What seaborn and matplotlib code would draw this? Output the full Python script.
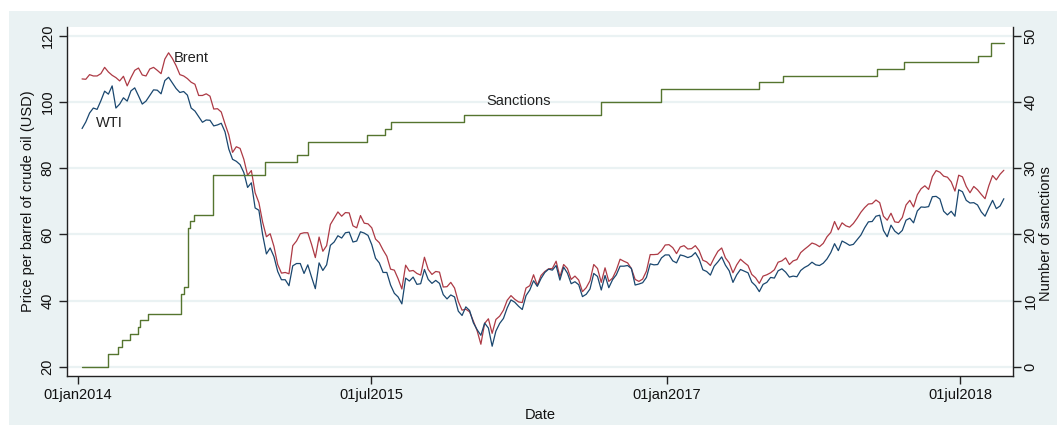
import matplotlib
matplotlib.use('Agg')
import matplotlib.pyplot as plt
from matplotlib.patches import Rectangle
import seaborn as sns
import pandas as pd

# weekly closing prices (USD per barrel), first week = 9 Jan 2014
start_week = '2014-01-09'
brent = [
    # 2014
    107.0, 106.9, 108.3, 107.9, 107.9, 108.6, 110.5, 109.1, 108.1, 107.4, 106.4, 107.8,
    104.9, 107.4, 109.6, 110.3, 108.2, 107.9, 110.0, 110.5, 109.6, 108.6, 113.0, 114.9, 113.2,
    111.0, 108.3, 107.9, 107.1, 106.0, 105.4, 102.0, 102.0, 102.5, 101.8, 97.9, 98.0, 97.0,
    93.4, 90.1, 84.8, 86.5, 86.0, 82.7, 77.9, 79.3, 72.6, 69.6, 63.7, 59.3, 60.2,
    # 2015
    56.4, 50.9, 48.3, 48.5, 48.1, 56.6, 58.0, 60.2, 60.5, 60.5, 57.0, 53.0, 59.2,
    54.9, 56.6, 63.0, 64.9, 66.8, 65.5, 66.6, 66.5, 62.6, 62.0, 65.7, 63.4, 63.2,
    62.0, 58.6, 57.5, 55.3, 53.4, 49.5, 49.2, 46.6, 43.5, 50.7, 48.9, 49.1, 48.2,
    47.7, 53.1, 49.4, 47.9, 48.8, 48.6, 44.1, 44.2, 45.5, 43.8, 39.7, 37.1, 37.4, 36.6,
    # 2016
    33.8, 30.9, 26.8, 33.1, 34.5, 30.1, 34.3, 35.3, 37.1, 40.1, 41.5, 40.4, 39.6,
    39.4, 43.8, 44.5, 47.8, 44.6, 47.6, 48.8, 49.6, 49.7, 51.9, 47.2, 50.9, 49.7,
    46.4, 47.4, 46.2, 42.7, 43.9, 46.0, 50.9, 49.7, 45.5, 49.9, 45.8, 46.8, 49.2,
    52.5, 51.9, 51.4, 49.7, 46.4, 45.8, 46.5, 48.9, 53.9, 53.9, 54.0, 55.1, 56.8,
    # 2017
    56.9, 56.0, 54.2, 56.2, 56.6, 55.6, 55.7, 56.6, 55.1, 52.2, 51.7, 50.6, 52.9,
    54.9, 55.9, 52.9, 51.4, 48.4, 50.8, 52.5, 51.5, 50.6, 47.9, 46.9, 45.2, 47.4,
    47.8, 48.4, 49.3, 51.6, 52.0, 52.9, 50.9, 52.0, 52.4, 54.5, 55.5, 56.4, 57.4,
    57.0, 56.3, 57.3, 59.3, 60.6, 63.9, 61.4, 63.5, 62.6, 62.2, 63.3, 64.9, 66.7,
    # 2018
    68.1, 69.2, 69.3, 70.4, 69.6, 65.5, 64.3, 66.4, 63.8, 63.6, 65.1, 68.9, 70.3,
    68.3, 72.0, 73.8, 74.7, 73.6, 77.5, 79.3, 78.8, 77.6, 77.3, 75.9, 73.1, 77.9,
    77.4, 74.5, 72.6, 74.5, 73.5, 72.1, 70.8, 74.7, 77.8, 76.5, 78.2, 79.4,
]
wti = [
    # 2014
    92.0, 94.0, 96.7, 98.2, 97.8, 100.4, 103.3, 102.4, 104.9, 98.2, 99.4, 101.3,
    100.3, 103.4, 104.3, 101.9, 99.4, 100.3, 102.0, 103.7, 103.6, 102.5, 106.5, 107.5, 105.8,
    104.1, 102.9, 103.2, 102.1, 98.2, 97.3, 95.6, 93.9, 94.6, 94.5, 92.8, 93.1, 93.6,
    91.0, 85.8, 82.7, 82.1, 81.1, 78.7, 74.2, 75.6, 68.0, 67.3, 59.9, 54.1, 55.9,
    # 2015
    53.3, 48.8, 46.3, 46.3, 44.5, 50.5, 51.2, 51.2, 48.2, 50.8, 47.1, 43.6, 51.4,
    49.1, 50.8, 56.7, 57.7, 59.6, 58.9, 60.5, 60.7, 57.7, 58.0, 60.8, 60.4, 59.7,
    56.9, 52.8, 51.4, 48.5, 48.5, 44.7, 42.2, 41.1, 39.0, 46.8, 45.9, 47.1, 44.9,
    45.1, 49.4, 46.4, 45.2, 46.1, 45.2, 41.8, 40.5, 41.7, 41.1, 36.8, 35.5, 38.1, 37.0,
    # 2016
    33.3, 31.2, 29.5, 33.2, 31.7, 26.2, 30.8, 33.1, 34.6, 37.8, 40.2, 39.5, 38.3,
    37.3, 41.5, 43.2, 46.0, 44.3, 46.7, 48.5, 49.5, 49.2, 50.6, 46.2, 50.1, 48.3,
    45.1, 45.7, 44.8, 41.2, 41.9, 43.5, 48.2, 47.3, 43.2, 47.6, 43.9, 46.3, 47.8,
    50.4, 50.4, 50.6, 49.7, 44.7, 45.0, 45.4, 47.0, 51.1, 50.8, 50.9, 52.9, 53.8,
    # 2017
    53.8, 52.0, 51.4, 53.8, 53.5, 53.0, 53.4, 54.5, 52.6, 49.3, 48.8, 47.7, 50.4,
    51.7, 53.2, 50.7, 49.0, 45.5, 47.8, 49.4, 48.9, 48.4, 45.6, 44.5, 42.7, 44.9,
    45.5, 47.0, 46.8, 49.0, 49.6, 48.6, 47.1, 47.4, 47.2, 49.1, 50.0, 50.6, 51.6,
    50.8, 50.6, 51.3, 52.6, 54.5, 57.2, 55.1, 58.0, 57.4, 56.7, 57.0, 58.4, 59.8,
    # 2018
    62.0, 63.8, 63.9, 65.5, 65.8, 61.2, 59.3, 62.8, 61.0, 60.1, 61.2, 64.3, 64.9,
    63.5, 67.1, 68.3, 68.2, 68.4, 71.4, 71.5, 70.7, 67.0, 65.9, 67.0, 65.5, 73.5,
    72.9, 70.3, 69.5, 69.6, 68.9, 66.8, 65.5, 68.0, 70.3, 67.8, 68.6, 70.8,
]

# cumulative number of sanctions, value holds from each date on
sanction_dates = [
    '2014-01-09', '2014-02-26', '2014-03-17', '2014-03-24', '2014-04-09', '2014-04-24',
    '2014-04-26', '2014-05-11', '2014-07-13', '2014-07-17', '2014-07-25', '2014-07-28',
    '2014-08-05', '2014-09-10', '2014-12-16', '2015-02-13', '2015-03-06', '2015-06-23',
    '2015-07-27', '2015-08-07', '2015-12-20', '2016-09-01', '2016-12-21', '2017-06-21',
    '2017-08-05', '2018-01-27', '2018-03-18', '2018-08-02', '2018-08-27', '2018-09-20',
]
sanction_counts = [
    0, 2, 3, 4, 5, 6,
    7, 8, 11, 12, 21, 22,
    23, 29, 31, 32, 34, 35,
    36, 37, 38, 40, 42, 43,
    44, 45, 46, 47, 49, 49,
]

tick_dates = ['2014-01-01', '2015-07-01', '2017-01-01', '2018-07-01']
price_ticks = [20, 40, 60, 80, 100, 120]
count_ticks = [0, 10, 20, 30, 40, 50]

BG = '#EAF2F3'
RED = '#AD3A45'
NAVY = '#1A476F'
GREEN = '#55752F'
INK = '#111111'

prices = pd.DataFrame({
    'Date': pd.date_range(start_week, periods=len(brent), freq='7D'),
    'Brent': brent,
    'WTI': wti,
})
sanctions = pd.DataFrame({'Date': pd.to_datetime(sanction_dates), 'Sanctions': sanction_counts})

sns.set_theme(style='white')
plt.rcParams['font.family'] = ['Liberation Sans', 'DejaVu Sans']

fig = plt.figure(figsize=(10.57, 4.25), dpi=100)
fig.patches.append(Rectangle((9 / 1057, 0), 1, 1 - 11 / 425, transform=fig.transFigure,
                             facecolor=BG, edgecolor='none', zorder=-1))
ax = fig.add_axes([67 / 1057, 49 / 425, 946 / 1057, 349 / 425])
ax.set_facecolor('white')

sns.lineplot(data=prices, x='Date', y='Brent', ax=ax, color=RED, lw=0.9)
sns.lineplot(data=prices, x='Date', y='WTI', ax=ax, color=NAVY, lw=0.9)

ax2 = ax.twinx()
sns.lineplot(data=sanctions, x='Date', y='Sanctions', ax=ax2, color=GREEN, lw=1.0,
             drawstyle='steps-post')

ax.set_xlim(pd.Timestamp('2013-12-12'), pd.Timestamp('2018-10-07'))
ax.set_ylim(17.2, 122.7)
ax2.set_ylim(-1.4, 51.35)

ax.set_yticks(price_ticks)
ax2.set_yticks(count_ticks)
ax.set_xticks(pd.to_datetime(tick_dates))
ax.set_xticklabels([pd.Timestamp(d).strftime('%d%b%Y').lower() for d in tick_dates])

ax.yaxis.grid(True, color=BG, lw=1.6)
ax.xaxis.grid(False)
ax.set_axisbelow(True)
ax2.grid(False)

for a in (ax, ax2):
    for side in a.spines:
        a.spines[side].set_visible(False)
ax.spines['left'].set_visible(True)
ax.spines['bottom'].set_visible(True)
ax2.spines['right'].set_visible(True)
for sp in (ax.spines['left'], ax.spines['bottom'], ax2.spines['right']):
    sp.set_color('#222222')
    sp.set_linewidth(1.0)

ax.tick_params(axis='both', direction='out', length=6, width=1.0, color='#222222',
               labelsize=10.5, labelcolor=INK, pad=3, left=True, bottom=True)
ax2.tick_params(axis='y', direction='out', length=6, width=1.0, color='#222222',
                labelsize=10.5, labelcolor=INK, pad=1.5, right=True)
for lab in ax.get_yticklabels() + ax2.get_yticklabels():
    lab.set_rotation(90)
    lab.set_va('center')

ax.set_xlabel('Date', fontsize=10.5, color=INK, labelpad=4)
ax.set_ylabel('Price per barrel of crude oil (USD)', fontsize=10.5, color=INK, labelpad=4)
ax2.set_ylabel('Number of sanctions', fontsize=10.5, color=INK, rotation=90, va='center')
ax2.yaxis.set_label_coords((1046 - 67) / 946, (376 - 234) / 349)

ax.text(pd.Timestamp('2014-06-28'), 113.2, 'Brent', fontsize=10.5, color='#222222', va='center', ha='left')
ax.text(pd.Timestamp('2014-02-03'), 93.7, 'WTI', fontsize=10.5, color='#222222', va='center', ha='left')
ax.text(pd.Timestamp('2016-01-31'), 100.3, 'Sanctions', fontsize=10.5, color='#222222', va='center', ha='left')

fig.savefig('out.png', dpi=100, facecolor='white')
